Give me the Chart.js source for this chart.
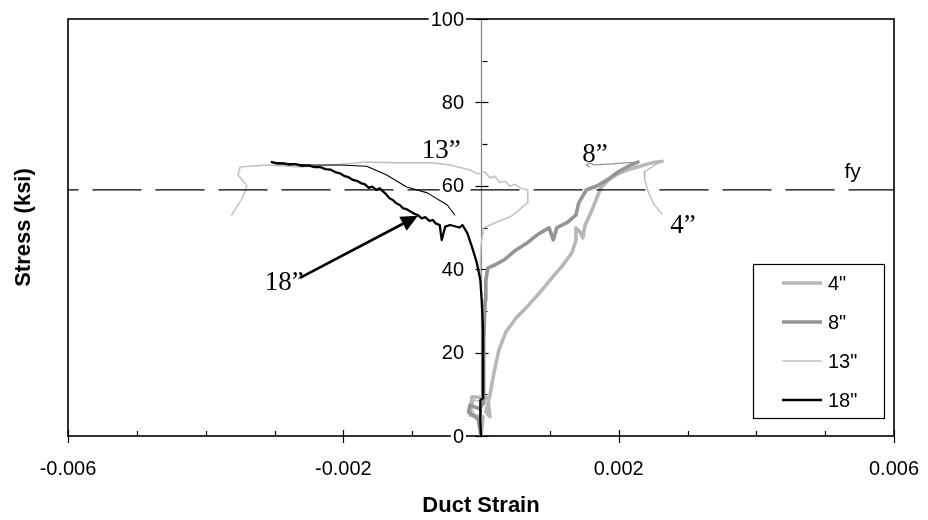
<!DOCTYPE html>
<html>
<head>
<meta charset="utf-8">
<script src="https://cdn.jsdelivr.net/npm/chart.js@4.4.0/dist/chart.umd.min.js"></script>
<style>
  html, body { margin: 0; padding: 0; background: #fff; }
  #wrap { width: 928px; height: 520px; }
</style>
</head>
<body>
<div id="wrap"><canvas id="c" width="928" height="520"></canvas></div>
<script>
// Duct strain vs. bar stress for four gauge locations
const seriesNames = ['4"', '8"', '13"', '18"'];

const strain4 = [0, 0.00003, -0.00016, -0.00013, 0.00010, 0.00013, 0.00007, 0.00013, 0.00019, 0.00026, 0.00036,
  0.00051, 0.00068, 0.00086, 0.00103, 0.00118, 0.00132, 0.00138, 0.00138, 0.00144, 0.00148,
  0.00151, 0.00160, 0.00167, 0.00174, 0.00185, 0.00196, 0.00212, 0.00231, 0.00248, 0.00263,
  0.00253, 0.00237, 0.00238, 0.00243, 0.00251, 0.00263];
const stress4 = [0, 4.6, 5.0, 9.4, 9.1, 4.6, 5.8, 9.8, 15.3, 20.6, 24.9,
  28.3, 31.2, 34.5, 37.9, 40.8, 43.9, 47.0, 49.9, 48.9, 47.5,
  50.4, 53.7, 56.6, 59.5, 61.4, 62.6, 63.8, 64.7, 65.5, 65.9,
  65.0, 63.3, 61.4, 58.5, 55.6, 53.2];

const strain8 = [0, -0.00004, -0.00018, -0.00016, -0.00002, 0.00003, 0.00004, 0.00004, 0.00006, 0.00007,
  0.00010, 0.00020, 0.00035, 0.00049, 0.00067, 0.00083, 0.00099, 0.00105, 0.00110, 0.00126,
  0.00138, 0.00142, 0.00153, 0.00169, 0.00185, 0.00199, 0.00214, 0.00228,
  0.00209, 0.00185, 0.00164, 0.00158, 0.00153, 0.00158];
const stress8 = [0, 4.0, 5.8, 7.4, 6.5, 7.8, 13.4, 23.0, 32.6, 37.4,
  40.3, 41.0, 42.4, 44.4, 46.3, 48.4, 49.9, 47.0, 49.9, 51.3,
  53.0, 55.9, 59.0, 60.0, 61.6, 63.3, 64.7, 65.7,
  65.5, 65.2, 65.0, 65.5, 65.0, 64.5];

const strain13 = [0, -0.00004, -0.00013, -0.00010, 0.00004, 0.00003, 0.00003, 0.00003, 0, -0.00001, 0,
  0.00004, 0.00023, 0.00042, 0.00054, 0.00067, 0.00068, 0.00058, 0.00049, 0.00042, 0.00035, 0.00027, 0.00020, 0.00013, 0.00006,
  -0.00005, -0.00016, -0.00045, -0.00070, -0.00118, -0.00166, -0.00215, -0.00263, -0.00311, -0.00350, -0.00353,
  -0.00340, -0.00346, -0.00355, -0.00362];
const stress13 = [0, 3.8, 6.2, 8.6, 8.2, 9.8, 15.8, 25.4, 35.0, 42.2, 45.8,
  49.9, 51.3, 52.5, 54.0, 55.9, 59.0, 59.4, 60.4, 59.9, 61.1, 60.8, 62.3, 61.9, 63.3,
  62.9, 63.8, 65.0, 65.5, 65.5, 65.7, 65.0, 64.5, 65.0, 64.5, 62.6,
  60.0, 57.3, 54.9, 53.0];

const strain18 = [0, -0.00001, -0.00001, 0.00003, 0.00003, 0.00003, 0.00001, -0.00001, -0.00006, -0.00013,
  -0.00020, -0.00027, -0.00031, -0.00038, -0.00045, -0.00052, -0.00057, -0.00060, -0.00066, -0.00070,
  -0.00075, -0.00081, -0.00086, -0.00092, -0.00097, -0.00103, -0.00108, -0.00113, -0.00118, -0.00123,
  -0.00128, -0.00133, -0.00138, -0.00142, -0.00147, -0.00152, -0.00158, -0.00163, -0.00169, -0.00174,
  -0.00179, -0.00186, -0.00193, -0.00199, -0.00205, -0.00212, -0.00219, -0.00226, -0.00234, -0.00242,
  -0.00251, -0.00260, -0.00270, -0.00279, -0.00288, -0.00296, -0.00304,
  -0.00253, -0.00205, -0.00166, -0.00137, -0.00108, -0.00078, -0.00049, -0.00038];
const stress18 = [0, 3.8, 8.6, 9.1, 15.8, 25.4, 32.6, 37.4, 41.5, 45.3,
  48.7, 50.6, 50.0, 50.3, 50.6, 50.2, 47.0, 50.6, 51.0, 51.8,
  51.6, 52.5, 52.2, 53.0, 53.3, 53.9, 54.4, 54.6, 55.4, 55.8,
  56.6, 57.0, 58.0, 58.6, 59.4, 59.0, 59.8, 59.5, 60.4, 60.6,
  61.1, 61.4, 62.1, 62.4, 63.0, 63.3, 63.9, 64.0, 64.5, 64.5,
  64.9, 64.8, 65.2, 65.1, 65.4, 65.3, 65.7,
  65.0, 65.0, 64.7, 62.6, 59.7, 58.3, 55.4, 53.0];

// index where each record turns into the sparse unloading tail
const tailStart = [30, 27, 999, 56];

const fyStress = 59;

const xTickValues = [-0.006, -0.002, 0.002, 0.006];
const xTickLabels = ['-0.006', '-0.002', '0.002', '0.006'];
const yTickValues = [0, 20, 40, 60, 80, 100];
const yTickLabels = ['0', '20', '40', '60', '80', '100'];
const xMinorStep = 0.001;
const yMinorStep = 10;

// text call-outs placed at data coordinates
const calloutText = ['13\u201D', '8\u201D', '4\u201D', '18\u201D'];
const calloutStrain = [-0.00086, 0.00147, 0.00275, -0.00314];
const calloutStress = [66.7, 65.7, 48.7, 35.0];
const fyLabelAt = [0.0054, 61.9];
const arrowFrom = [-0.00263, 37.9];
const arrowTo = [-0.000915, 52.8];

const SANS = '"Liberation Sans", Arial, Helvetica, sans-serif';
const SERIF = '"Liberation Serif", "Times New Roman", serif';

const pts = (xs, ys) => xs.map((v, i) => ({ x: v, y: ys[i] }));

const seriesStyle = [
  { color: '#b7b7b7', width: 3.6, tailWidth: 1.3, order: 3 },
  { color: '#959595', width: 3.6, tailWidth: 1.3, order: 2 },
  { color: '#c3c3c3', width: 1.6, tailWidth: 1.6, order: 4 },
  { color: '#000000', width: 2.3, tailWidth: 1.1, order: 1 }
];
const seriesData = [pts(strain4, stress4), pts(strain8, stress8), pts(strain13, stress13), pts(strain18, stress18)];

const datasets = seriesNames.map((name, i) => ({
  label: name,
  data: seriesData[i],
  showLine: true,
  borderColor: seriesStyle[i].color,
  borderWidth: seriesStyle[i].width,
  pointRadius: 0,
  order: seriesStyle[i].order,
  segment: {
    borderWidth: c => (c.p0DataIndex >= tailStart[i] ? seriesStyle[i].tailWidth : seriesStyle[i].width)
  }
}));
datasets.push({
  label: 'fy',
  data: [{ x: -0.006, y: fyStress }, { x: 0.006, y: fyStress }],
  showLine: true,
  borderColor: '#000',
  borderWidth: 1.3,
  borderDash: [48, 15],
  borderDashOffset: 38,
  pointRadius: 0,
  order: 0
});

function line(ctx, x1, y1, x2, y2) {
  ctx.beginPath(); ctx.moveTo(x1, y1); ctx.lineTo(x2, y2); ctx.stroke();
}

const axesPlugin = {
  id: 'axesFrame',
  beforeDatasetsDraw(chart) {
    const { ctx, chartArea: a, scales: { x, y } } = chart;
    const x0 = Math.round(x.getPixelForValue(0)) + 0.5;
    ctx.save();
    ctx.strokeStyle = '#808080';
    ctx.lineWidth = 1.2;
    line(ctx, x0, a.top, x0, a.bottom);

    ctx.strokeStyle = '#000';
    ctx.lineWidth = 1.6;
    ctx.strokeRect(a.left, a.top, a.right - a.left, a.bottom - a.top);

    ctx.lineWidth = 1.2;
    const nx = Math.round((x.max - x.min) / xMinorStep);
    for (let k = 0; k <= nx; k++) {
      const v = x.min + k * xMinorStep;
      const px = Math.round(x.getPixelForValue(v)) + 0.5;
      const major = xTickValues.some(t => Math.abs(t - v) < 1e-9);
      if (major) line(ctx, px, a.bottom - 6, px, a.bottom + 7);
      else line(ctx, px, a.bottom - 5, px, a.bottom);
    }
    const ny = Math.round((y.max - y.min) / yMinorStep);
    for (let k = 0; k <= ny; k++) {
      const v = y.min + k * yMinorStep;
      const py = Math.round(y.getPixelForValue(v)) + 0.5;
      const major = yTickValues.includes(v);
      if (major) line(ctx, x0 - 6, py, x0 + 7, py);
      else line(ctx, x0 + 1, py, x0 + 6, py);
    }
    ctx.restore();
  },
  afterDatasetsDraw(chart) {
    const { ctx, chartArea: a, scales: { x, y } } = chart;
    const x0 = x.getPixelForValue(0);
    ctx.save();

    // y tick labels, each on a white backdrop
    ctx.font = '20px ' + SANS;
    ctx.textAlign = 'right';
    ctx.textBaseline = 'middle';
    yTickValues.forEach((v, i) => {
      const py = y.getPixelForValue(v);
      const w = ctx.measureText(yTickLabels[i]).width;
      ctx.fillStyle = '#fff';
      ctx.fillRect(x0 - 17 - w - 2, py - 9, w + 4, 18);
      ctx.fillStyle = '#000';
      ctx.fillText(yTickLabels[i], x0 - 17, py + 1);
    });

    // x tick labels
    ctx.textAlign = 'center';
    ctx.textBaseline = 'alphabetic';
    xTickValues.forEach((v, i) => {
      ctx.fillText(xTickLabels[i], x.getPixelForValue(v), a.bottom + 39);
    });

    // axis titles
    ctx.font = 'bold 22px ' + SANS;
    ctx.fillText('Duct Strain', (a.left + a.right) / 2, 512);
    ctx.save();
    ctx.translate(30, (a.top + a.bottom) / 2);
    ctx.rotate(-Math.PI / 2);
    ctx.fillText('Stress (ksi)', 0, 0);
    ctx.restore();

    // call-outs
    ctx.font = '27px ' + SERIF;
    ctx.textAlign = 'left';
    calloutText.forEach((t, i) => {
      ctx.fillText(t, x.getPixelForValue(calloutStrain[i]), y.getPixelForValue(calloutStress[i]));
    });
    ctx.font = '21px ' + SANS;
    ctx.textAlign = 'center';
    ctx.fillText('fy', x.getPixelForValue(fyLabelAt[0]), y.getPixelForValue(fyLabelAt[1]));

    // arrow pointing at the 18" record
    const ax1 = x.getPixelForValue(arrowFrom[0]), ay1 = y.getPixelForValue(arrowFrom[1]);
    const ax2 = x.getPixelForValue(arrowTo[0]), ay2 = y.getPixelForValue(arrowTo[1]);
    const ang = Math.atan2(ay2 - ay1, ax2 - ax1);
    const hl = 17, hw = 8;
    const bx = ax2 - hl * Math.cos(ang), by = ay2 - hl * Math.sin(ang);
    ctx.strokeStyle = '#000';
    ctx.lineWidth = 2.6;
    line(ctx, ax1, ay1, bx, by);
    ctx.fillStyle = '#000';
    ctx.beginPath();
    ctx.moveTo(ax2, ay2);
    ctx.lineTo(bx + hw * Math.sin(ang), by - hw * Math.cos(ang));
    ctx.lineTo(bx - hw * Math.sin(ang), by + hw * Math.cos(ang));
    ctx.closePath();
    ctx.fill();

    // legend box
    const lx = 753.5, ly = 264.5, lw = 131, lh = 154;
    ctx.fillStyle = '#fff';
    ctx.fillRect(lx, ly, lw, lh);
    ctx.strokeStyle = '#000';
    ctx.lineWidth = 1.2;
    ctx.strokeRect(lx, ly, lw, lh);
    ctx.font = '20px ' + SANS;
    ctx.textAlign = 'left';
    ctx.textBaseline = 'middle';
    seriesNames.forEach((name, i) => {
      const ey = 283 + 39 * i;
      ctx.strokeStyle = seriesStyle[i].color;
      ctx.lineWidth = seriesStyle[i].width;
      line(ctx, 782, ey, 822, ey);
      ctx.fillStyle = '#000';
      ctx.fillText(name, 828, ey + 1);
    });

    ctx.restore();
  }
};

new Chart(document.getElementById('c'), {
  type: 'scatter',
  data: { datasets },
  options: {
    responsive: false,
    animation: false,
    layout: { padding: { left: 68, top: 19, right: 34, bottom: 84 } },
    scales: {
      x: { type: 'linear', min: -0.006, max: 0.006, display: false },
      y: { type: 'linear', min: 0, max: 100, display: false }
    },
    elements: { line: { tension: 0, borderJoinStyle: 'round', borderCapStyle: 'round' } },
    plugins: { legend: { display: false }, tooltip: { enabled: false } }
  },
  plugins: [axesPlugin]
});
</script>
</body>
</html>
